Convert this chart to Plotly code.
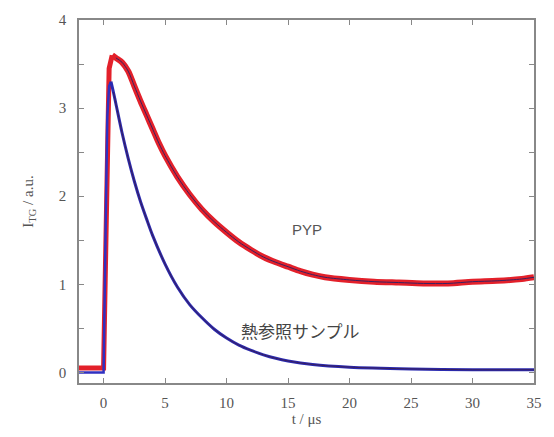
import plotly.graph_objects as go

# PYP signal (red)
t_pyp = [-2.0, -1.0, 0.0, 0.15, 0.3, 0.45, 0.7, 1.0, 1.5, 2.0, 2.5, 3.0, 3.5, 4.0, 4.5, 5.0,
         6.0, 7.0, 8.0, 9.0, 10.0, 11.0, 12.0, 13.0, 14.0, 15.0, 16.0, 17.0, 18.0, 20.0,
         22.0, 24.0, 26.0, 28.0, 30.0, 32.0, 34.0, 35.0]
v_pyp = [0.05, 0.05, 0.05, 1.2, 2.8, 3.45, 3.6, 3.57, 3.52, 3.42, 3.25, 3.08, 2.92, 2.76, 2.6, 2.46,
         2.22, 2.02, 1.85, 1.71, 1.59, 1.48, 1.39, 1.31, 1.25, 1.2, 1.15, 1.11, 1.08, 1.05,
         1.03, 1.02, 1.01, 1.01, 1.03, 1.04, 1.06, 1.08]

# heat reference sample (blue)
t_ref = [-2.0, -1.0, 0.0, 0.15, 0.3, 0.45, 0.6, 0.8, 1.0, 1.5, 2.0, 2.5, 3.0, 3.5, 4.0, 5.0,
         6.0, 7.0, 8.0, 9.0, 10.0, 11.0, 12.0, 13.0, 14.0, 15.0, 17.0, 20.0, 25.0, 30.0, 35.0]
v_ref = [0.0, 0.0, 0.0, 1.5, 2.9, 3.25, 3.3, 3.18, 3.05, 2.72, 2.43, 2.17, 1.94, 1.74, 1.55, 1.23,
         0.97, 0.77, 0.62, 0.49, 0.39, 0.31, 0.25, 0.2, 0.16, 0.13, 0.09, 0.06, 0.04, 0.03, 0.03]

x_ticks = [0, 5, 10, 15, 20, 25, 30, 35]
y_ticks = [0, 1, 2, 3, 4]

fig = go.Figure()
# rise parts (straight) and decay parts (smooth)
fig.add_trace(go.Scatter(x=t_pyp[:7], y=v_pyp[:7], mode="lines",
                         line=dict(color="#e3202a", width=5), showlegend=False))
fig.add_trace(go.Scatter(x=t_pyp[6:], y=v_pyp[6:], mode="lines",
                         line=dict(color="#e3202a", width=6, shape="spline", smoothing=0.8),
                         showlegend=False))
fig.add_trace(go.Scatter(x=t_pyp[7:], y=v_pyp[7:], mode="lines",
                         line=dict(color="#3a2060", width=1, shape="spline", smoothing=0.8),
                         showlegend=False))
fig.add_trace(go.Scatter(x=t_ref[:7], y=v_ref[:7], mode="lines",
                         line=dict(color="#3030c0", width=2.5), showlegend=False))
fig.add_trace(go.Scatter(x=t_ref[6:], y=v_ref[6:], mode="lines",
                         line=dict(color="#2a2ab0", width=3, shape="spline", smoothing=0.8),
                         showlegend=False))
fig.add_trace(go.Scatter(x=t_ref[7:], y=v_ref[7:], mode="lines",
                         line=dict(color="#3a1e5a", width=1, shape="spline", smoothing=0.8),
                         showlegend=False))

fig.add_annotation(x=16.5, y=1.62, text="PYP", showarrow=False,
                   font=dict(family="Liberation Sans", size=15, color="#555555"))
fig.add_annotation(x=16.0, y=0.48, text="熱参照サンプル", showarrow=False,
                   font=dict(family="Noto Sans CJK JP", size=17, color="#444444"))

axis_common = dict(showgrid=False, zeroline=False, showline=True, linecolor="#888888", linewidth=1.5,
                   mirror="ticks", ticks="inside", ticklen=5, tickcolor="#888888",
                   tickfont=dict(family="Liberation Serif", size=15, color="#555555"))
fig.update_xaxes(range=[-2, 35], tickvals=x_ticks, ticktext=[str(v) for v in x_ticks],
                 title=dict(text="t / μs", font=dict(family="Liberation Serif", size=15, color="#555555"),
                            standoff=4),
                 ticklabelstandoff=5, **axis_common)
fig.update_yaxes(range=[-0.12, 4], tickvals=y_ticks, ticktext=[str(v) for v in y_ticks],
                 minor=dict(dtick=0.5, ticks="inside", ticklen=5, tickcolor="#888888"),
                 title=dict(text="I<sub>TG</sub> / a.u.", font=dict(family="Liberation Serif", size=15, color="#555555"),
                            standoff=22),
                 ticklabelstandoff=8, **axis_common)

fig.update_layout(width=554, height=437, margin=dict(l=79, r=16, t=16, b=48),
                  plot_bgcolor="white", paper_bgcolor="white")
fig.write_html("out.html")
